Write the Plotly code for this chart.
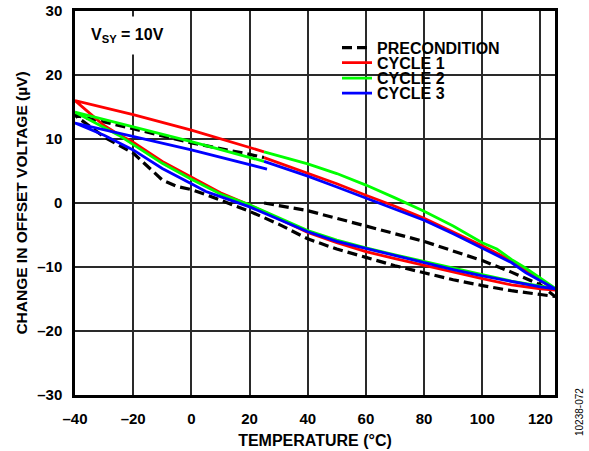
import plotly.graph_objects as go

# Precondition: 25 -> 125 -> -40 -> 25 °C
pre_temp = [25, 40, 60, 80, 100, 110, 120, 125,
            120, 110, 100, 90, 80, 70, 60, 50, 40, 30, 20, 10, 5, 0, -5, -10, -20, -30, -38, -40,
            -20, 0, 20, 25]
pre_vos = [0, -1.2, -3.6, -6.0, -9.0, -10.8, -12.8, -14.6,
           -14.3, -13.7, -12.9, -12.0, -10.9, -9.8, -8.5, -7.2, -5.6, -3.3, -1.3, 0.5, 1.3, 2.1, 2.6, 3.6, 7.8, 10.3, 13.0, 13.7,
           11.6, 9.4, 7.6, 7.1]

# Cycle 1
c1_temp = [25, 40, 50, 60, 70, 80, 90, 100, 110, 120, 125,
           120, 110, 100, 90, 80, 70, 60, 50, 40, 30, 20, 10, 5, 0, -10, -20, -25, -30, -40,
           -20, 0, 25]
c1_vos = [7.1, 4.6, 3.0, 1.2, -0.5, -2.4, -4.5, -6.7, -9.0, -12.0, -13.6,
          -13.4, -12.8, -11.8, -10.8, -9.7, -8.7, -7.6, -6.2, -4.6, -2.4, -0.3, 1.6, 2.8, 4.0, 6.5, 9.5, 10.7, 12.1, 16.0,
          13.8, 11.4, 8.0]

# Cycle 2
c2_temp = [25, 40, 50, 60, 70, 80, 90, 100, 105, 110, 115, 120, 125,
           120, 110, 100, 90, 80, 70, 60, 50, 40, 30, 20, 10, 5, 0, -10, -20, -25, -40,
           -20, 0, 25]
c2_vos = [8.0, 6.1, 4.6, 2.8, 0.8, -1.3, -3.6, -6.2, -7.2, -8.8, -10.2, -11.8, -13.3,
          -13.0, -12.2, -11.2, -10.2, -9.1, -8.1, -7.0, -5.8, -4.3, -2.3, -0.3, 1.4, 2.5, 3.7, 6.2, 9.2, 10.6, 14.2,
          11.9, 9.6, 6.5]

# Cycle 3
c3_temp = [25, 40, 50, 60, 70, 80, 90, 100, 105, 110, 115, 120, 125,
           120, 110, 100, 90, 80, 70, 60, 50, 40, 30, 20, 10, 5, 0, -10, -20, -30, -40,
           -20, 0, 26]
c3_vos = [6.5, 4.2, 2.5, 0.8, -0.9, -2.7, -4.8, -7.0, -8.1, -9.3, -10.9, -12.2, -13.4,
          -13.1, -12.3, -11.4, -10.4, -9.3, -8.3, -7.2, -6.0, -4.5, -2.6, -0.6, 1.0, 1.8, 3.0, 5.4, 8.3, 10.6, 12.5,
          10.4, 8.3, 5.3]

series_names = ["PRECONDITION", "CYCLE 1", "CYCLE 2", "CYCLE 3"]

x_ticks = [-40, -20, 0, 20, 40, 60, 80, 100, 120]
x_labels = ["–40", "–20", "0", "20", "40", "60", "80", "100", "120"]
y_ticks = [-30, -20, -10, 0, 10, 20, 30]
y_labels = ["–30", "–20", "–10", "0", "10", "20", "30"]

FONT = "Arial, 'Liberation Sans', sans-serif"

W, H = 589, 451
PL, PT, PW, PH = 75, 11, 480, 384  # plot area in page pixels


def px_x(px):
    return (px - PL) / PW


def px_y(py):
    return (PT + PH - py) / PH


fig = go.Figure()
fig.add_trace(go.Scatter(x=pre_temp, y=pre_vos, mode="lines", name="<b>%s</b>" % series_names[0],
                         legend="legend",
                         line=dict(color="black", width=3.2, dash="10px,5px")))
fig.add_trace(go.Scatter(x=c1_temp, y=c1_vos, mode="lines", name="<b>%s</b>" % series_names[1],
                         legend="legend2",
                         line=dict(color="#FF0000", width=2.8)))
fig.add_trace(go.Scatter(x=c2_temp, y=c2_vos, mode="lines", name="<b>%s</b>" % series_names[2],
                         legend="legend3",
                         line=dict(color="#00FF00", width=2.8)))
fig.add_trace(go.Scatter(x=c3_temp, y=c3_vos, mode="lines", name="<b>%s</b>" % series_names[3],
                         legend="legend4",
                         line=dict(color="#0000FF", width=2.8)))

leg_rows = [47.7, 62.7, 78.3, 93.3]
leg_common = dict(x=px_x(337), xanchor="left", yanchor="middle",
                  bgcolor="rgba(0,0,0,0)", borderwidth=0,
                  font=dict(size=16, family=FONT, color="black"), itemwidth=30)

fig.update_layout(
    width=W, height=H,
    margin=dict(l=PL, r=W - PL - PW, t=PT, b=H - PT - PH, autoexpand=False),
    paper_bgcolor="white", plot_bgcolor="white",
    font=dict(family=FONT, size=15, color="black"),
    showlegend=True,
    legend=dict(y=px_y(leg_rows[0]), **leg_common),
    legend2=dict(y=px_y(leg_rows[1]), **leg_common),
    legend3=dict(y=px_y(leg_rows[2]), **leg_common),
    legend4=dict(y=px_y(leg_rows[3]), **leg_common),
    shapes=[
        dict(type="rect", xref="paper", yref="paper", layer="between",
             x0=px_x(350), x1=px_x(458), y0=px_y(103), y1=px_y(37),
             fillcolor="white", line=dict(width=0)),
    ],
    annotations=[
        dict(text="<b>V<sub>SY</sub> = 10V</b>", xref="paper", yref="paper",
             x=px_x(127.5), y=px_y(36), xanchor="center", yanchor="middle",
             showarrow=False, bgcolor="white", borderpad=9,
             font=dict(size=16, family=FONT, color="black")),
        dict(text="10238-072", xref="paper", yref="paper",
             x=px_x(579), y=px_y(412), xanchor="center", yanchor="middle",
             textangle=-90, showarrow=False,
             font=dict(size=10, family=FONT, color="black")),
    ],
)

fig.update_xaxes(
    range=[-40, 125], tickvals=x_ticks, ticktext=["<b>%s</b>" % t for t in x_labels],
    showgrid=True, gridcolor="#2a2a2a", gridwidth=1.5,
    showline=True, linecolor="black", linewidth=2.5, mirror=True,
    zeroline=False, ticks="", ticklabelstandoff=8,
    tickfont=dict(size=15, family=FONT, color="black"),
    title=dict(text="<b>TEMPERATURE (°C)</b>", font=dict(size=16, family=FONT, color="black"), standoff=10),
    automargin=False,
)
fig.update_yaxes(
    range=[-30, 30], tickvals=y_ticks, ticktext=["<b>%s</b>" % t for t in y_labels],
    showgrid=True, gridcolor="#2a2a2a", gridwidth=1.5,
    showline=True, linecolor="black", linewidth=2.5, mirror=True,
    zeroline=False, ticks="", ticklabelstandoff=7,
    tickfont=dict(size=15, family=FONT, color="black"),
    title=dict(text="<b>CHANGE IN OFFSET VOLTAGE (µV)</b>", font=dict(size=15.5, family=FONT, color="black"), standoff=6),
    automargin=False,
)

fig.write_html("out.html", config={"displayModeBar": False},
               post_script="document.body.style.margin='0px';document.body.style.overflow='hidden';")
